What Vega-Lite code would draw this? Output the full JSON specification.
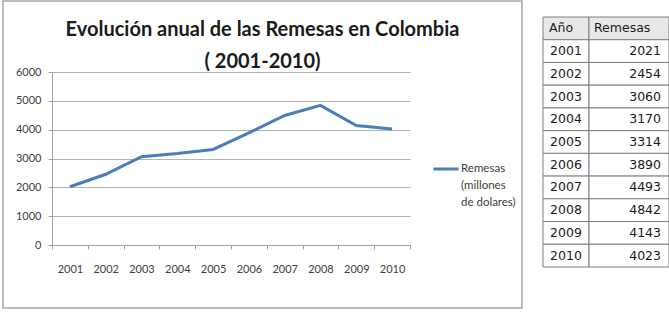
{
  "$schema": "https://vega.github.io/schema/vega-lite/v6.json",
  "background": "white",
  "padding": {"left": 2, "top": 0, "right": 0, "bottom": 0},
  "datasets": {
    "remesas": [
      {"anio": "2001", "remesas": 2021},
      {"anio": "2002", "remesas": 2454},
      {"anio": "2003", "remesas": 3060},
      {"anio": "2004", "remesas": 3170},
      {"anio": "2005", "remesas": 3314},
      {"anio": "2006", "remesas": 3890},
      {"anio": "2007", "remesas": 4493},
      {"anio": "2008", "remesas": 4842},
      {"anio": "2009", "remesas": 4143},
      {"anio": "2010", "remesas": 4023}
    ],
    "cabecera": [
      {"anio": "Año", "col1": "Año", "col2": "Remesas"}
    ]
  },
  "bounds": "flush",
  "spacing": 21,
  "hconcat": [
    {
      "width": 519,
      "height": 307,
      "view": {"stroke": "#a6a6a6", "strokeWidth": 1.5},
      "title": {
        "text": ["Evolución anual de las Remesas en Colombia", "( 2001-2010)"],
        "font": "Lato",
        "fontWeight": "bold",
        "fontSize": 20,
        "lineHeight": 32,
        "color": "#1a1a1a",
        "anchor": "middle",
        "offset": -71
      },
      "data": {"name": "remesas"},
      "mark": {"type": "line", "strokeWidth": 3},
      "encoding": {
        "x": {
          "field": "anio",
          "type": "ordinal",
          "scale": {"type": "band", "range": [49, 407], "paddingInner": 0, "paddingOuter": 0},
          "axis": {
            "title": null,
            "offset": -63,
            "labelAngle": 0,
            "tickBand": "extent",
            "tickSize": 4,
            "labelPadding": 14,
            "labelFont": "Lato",
            "labelFontSize": 11,
            "labelColor": "#404040",
            "grid": false,
            "domainColor": "#a0a0a0",
            "tickColor": "#a0a0a0"
          }
        },
        "y": {
          "field": "remesas",
          "type": "quantitative",
          "scale": {"domain": [0, 6000], "range": [244, 71], "nice": false},
          "axis": {
            "title": null,
            "offset": -49,
            "values": [0, 1000, 2000, 3000, 4000, 5000, 6000],
            "format": "d",
            "tickSize": 4,
            "labelPadding": 7,
            "labelFont": "Lato",
            "labelFontSize": 11,
            "labelColor": "#404040",
            "grid": true,
            "gridColor": "#b4b4b4",
            "domainColor": "#a0a0a0",
            "tickColor": "#a0a0a0"
          }
        },
        "color": {
          "datum": "Remesas (millones de dolares)",
          "scale": {"range": ["#4a7ebb"]},
          "legend": {
            "orient": "none",
            "legendX": 429,
            "legendY": 154,
            "title": null,
            "padding": 0,
            "symbolType": "stroke",
            "symbolSize": 625,
            "symbolStrokeWidth": 3,
            "labelOffset": 1,
            "labelLimit": 200,
            "labelFont": "Lato",
            "labelFontSize": 11.5,
            "labelColor": "#404040",
            "labelExpr": "['Remesas', '(millones', 'de dolares)']",
            "encode": {"labels": {"update": {"lineHeight": {"value": 17}}}}
          }
        }
      }
    },
    {
      "spacing": 0,
      "bounds": "flush",
      "hconcat": [
        {
          "width": 46,
          "height": 266,
          "view": {"stroke": null},
          "encoding": {
            "y": {
              "field": "anio",
              "type": "ordinal",
              "scale": {"domain": ["Año", "2001", "2002", "2003", "2004", "2005", "2006", "2007", "2008", "2009", "2010"], "range": [16, 266], "paddingInner": 0, "paddingOuter": 0},
              "axis": null
            }
          },
          "layer": [
            {
              "data": {"name": "cabecera"},
              "mark": {"type": "rect", "fill": "#e8e8e8", "stroke": "#7f7f7f", "strokeWidth": 1},
              "encoding": {"x": {"value": 0}, "x2": {"value": "width"}}
            },
            {
              "data": {"name": "cabecera"},
              "mark": {"type": "text", "align": "left", "dx": -17, "font": "DejaVu Sans", "fontSize": 12.5, "color": "#1a1a1a"},
              "encoding": {"text": {"field": "col1"}}
            },
            {
              "data": {"name": "remesas"},
              "mark": {"type": "rect", "fill": "white", "stroke": "#7f7f7f", "strokeWidth": 1},
              "encoding": {"x": {"value": 0}, "x2": {"value": "width"}}
            },
            {
              "data": {"name": "remesas"},
              "mark": {"type": "text", "align": "center", "font": "DejaVu Sans", "fontSize": 12.5, "color": "#1a1a1a"},
              "encoding": {"text": {"field": "anio"}}
            }
          ]
        },
        {
          "width": 80,
          "height": 266,
          "view": {"stroke": null},
          "encoding": {
            "y": {
              "field": "anio",
              "type": "ordinal",
              "scale": {"domain": ["Año", "2001", "2002", "2003", "2004", "2005", "2006", "2007", "2008", "2009", "2010"], "range": [16, 266], "paddingInner": 0, "paddingOuter": 0},
              "axis": null
            }
          },
          "layer": [
            {
              "data": {"name": "cabecera"},
              "mark": {"type": "rect", "fill": "#e8e8e8", "stroke": "#7f7f7f", "strokeWidth": 1},
              "encoding": {"x": {"value": 0}, "x2": {"value": "width"}}
            },
            {
              "data": {"name": "cabecera"},
              "mark": {"type": "text", "align": "left", "dx": -35, "font": "DejaVu Sans", "fontSize": 12.5, "color": "#1a1a1a"},
              "encoding": {"text": {"field": "col2"}}
            },
            {
              "data": {"name": "remesas"},
              "mark": {"type": "rect", "fill": "white", "stroke": "#7f7f7f", "strokeWidth": 1},
              "encoding": {"x": {"value": 0}, "x2": {"value": "width"}}
            },
            {
              "data": {"name": "remesas"},
              "mark": {"type": "text", "align": "right", "dx": 32, "font": "DejaVu Sans", "fontSize": 12.5, "color": "#1a1a1a"},
              "encoding": {"text": {"field": "remesas", "type": "quantitative", "format": "d"}}
            }
          ]
        }
      ]
    }
  ]
}
